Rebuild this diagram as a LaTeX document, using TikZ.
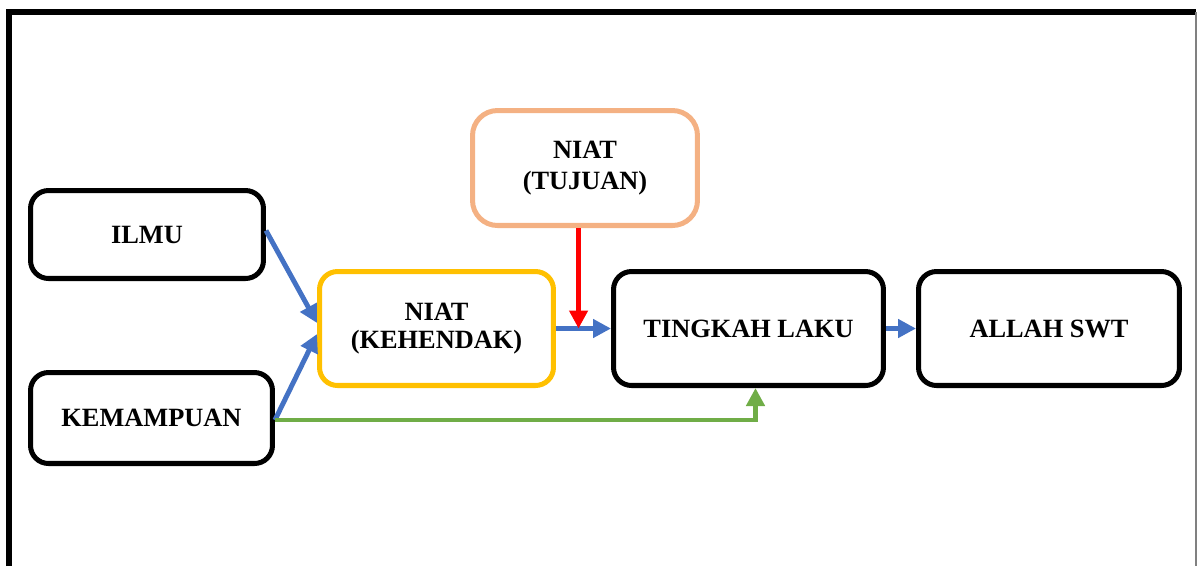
\documentclass[tikz,border=0pt]{standalone}
\usepackage{fontspec}
\setmainfont{Liberation Serif}
\usetikzlibrary{arrows.meta,calc}

\definecolor{arrowblue}{HTML}{4472C4}
\definecolor{arrowgreen}{HTML}{70AD47}
\definecolor{boxyellow}{HTML}{FFC000}
\definecolor{boxpeach}{HTML}{F4B183}

\tikzset{
    stagebox/.style={draw=black, line width=2.85pt, rounded corners=0.36cm,
        align=center, font=\fontsize{15}{16}\selectfont\bfseries, inner sep=2pt},
    flow/.style={line width=2.8pt, -{Triangle[length=0.36cm, width=0.36cm]}}
}

\begin{document}
\begin{tikzpicture}[x=0.02cm, y=-0.02cm]

    %% Frame
    \useasboundingbox (0,0) rectangle (1197,566);
    \draw[line width=3.4pt] (9,566) -- (9,12) -- (1196,12);
    \draw[gray, line width=0.6pt] (1196,12) -- (1196,566);

    %% Boxes
    \node[stagebox, minimum width=4.66cm, minimum height=1.76cm] (ilmu) at (147,234.5) {ILMU};
    \node[stagebox, minimum width=4.84cm, minimum height=1.82cm] (kemampuan) at (151.5,418) {KEMAMPUAN};
    \node[stagebox, draw=boxyellow, minimum width=4.68cm, minimum height=2.28cm] (kehendak) at (436.5,328.5) {NIAT\\(KEHENDAK)};
    \node[stagebox, draw=boxpeach, rounded corners=0.5cm, minimum width=4.5cm, minimum height=2.3cm,
        font=\fontsize{15}{17.5}\selectfont\bfseries] (tujuan) at (585,168) {NIAT\\(TUJUAN)};
    \node[stagebox, minimum width=5.4cm, minimum height=2.28cm] (tingkah) at (748.5,328.5) {TINGKAH LAKU};
    \node[stagebox, minimum width=5.22cm, minimum height=2.28cm] (allah) at (1049,328.5) {ALLAH SWT};

    %% Connectors
    \coordinate (meet) at ($(kehendak.east)!0.41!(tingkah.west)$);
    \draw[flow, arrowblue] ([yshift=0.08cm]ilmu.east) -- ([yshift=0.11cm]kehendak.west);
    \draw[flow, arrowblue] ([yshift=-0.04cm]kemampuan.east) -- ([yshift=-0.11cm]kehendak.west);
    \draw[flow, arrowgreen] ([yshift=-0.04cm]kemampuan.east) -| ([xshift=0.14cm]tingkah.south);
    \draw[flow, arrowblue] (kehendak.east) -- (tingkah.west);
    \draw[flow, red] (tujuan.south -| meet) -- (meet);
    \draw[flow, arrowblue] (tingkah.east) -- (allah.west);

\end{tikzpicture}
\end{document}
